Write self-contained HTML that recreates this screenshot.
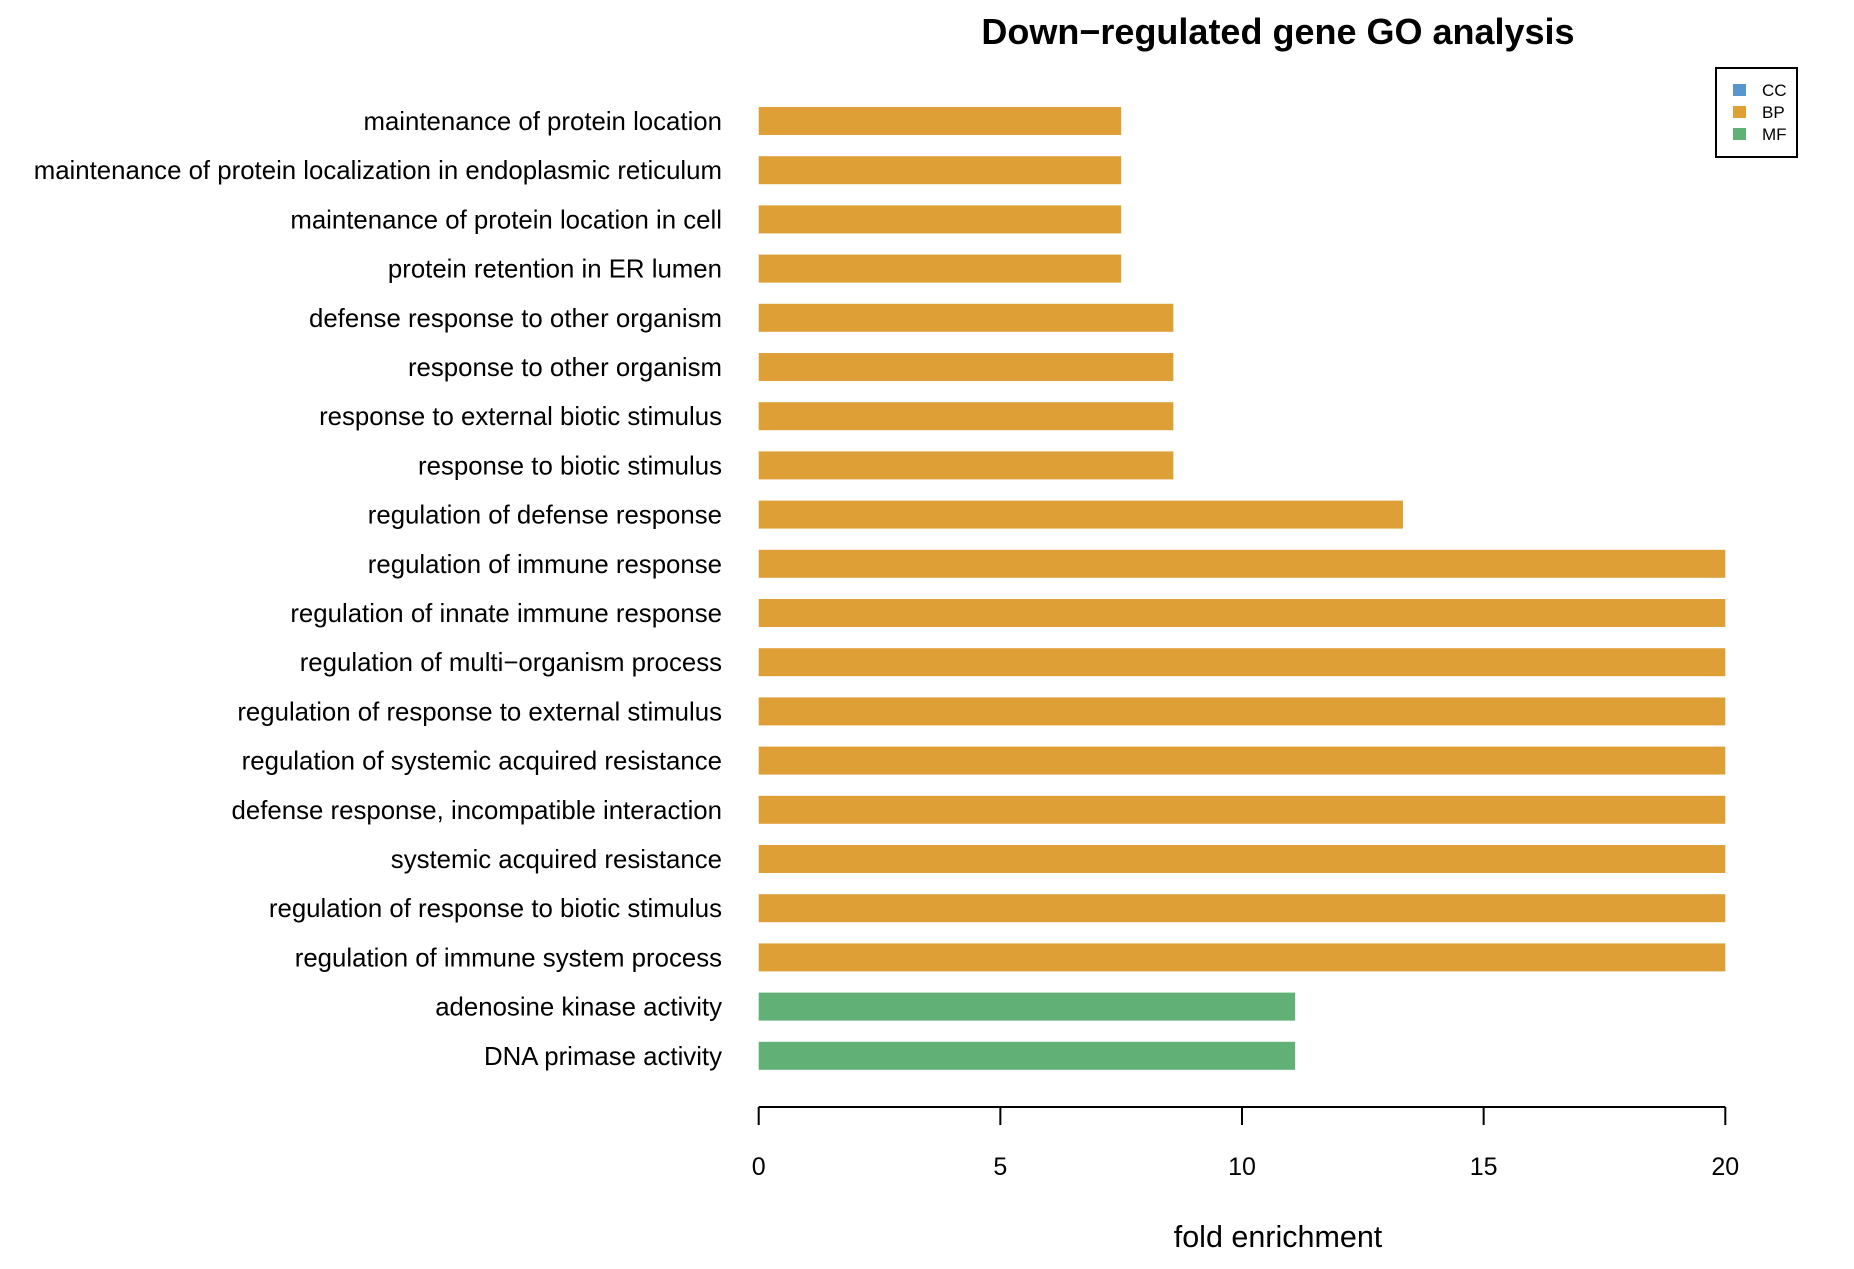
<!DOCTYPE html>
<html><head><meta charset="utf-8"><style>
body{margin:0;background:#fff}
svg text{font-family:"Liberation Sans",Arial,sans-serif}
</style></head><body>
<svg width="1854" height="1264" viewBox="0 0 1854 1264">
<text x="1278" y="44" text-anchor="middle" font-size="36" font-weight="bold">Down−regulated gene GO analysis</text>
<g id="bars"></g><g id="labels"></g><g id="xaxis"></g>
<text x="1278" y="1247" text-anchor="middle" font-size="30.5">fold enrichment</text>
<g>
<rect x="1716" y="68" width="81" height="89" fill="#fff" stroke="#000" stroke-width="2"/>
<rect x="1733" y="84" width="13" height="12" fill="#5b95cf"/>
<text x="1762" y="96" font-size="17">CC</text>
<rect x="1733" y="106" width="13" height="12" fill="#dea036"/>
<text x="1762" y="118" font-size="17">BP</text>
<rect x="1733" y="128" width="13" height="12" fill="#61b176"/>
<text x="1762" y="140" font-size="17">MF</text>
</g>
</svg>
<script>
const categories=["maintenance of protein location","maintenance of protein localization in endoplasmic reticulum","maintenance of protein location in cell","protein retention in ER lumen","defense response to other organism","response to other organism","response to external biotic stimulus","response to biotic stimulus","regulation of defense response","regulation of immune response","regulation of innate immune response","regulation of multi−organism process","regulation of response to external stimulus","regulation of systemic acquired resistance","defense response, incompatible interaction","systemic acquired resistance","regulation of response to biotic stimulus","regulation of immune system process","adenosine kinase activity","DNA primase activity"];
const values=[7.5,7.5,7.5,7.5,8.58,8.58,8.58,8.58,13.33,20,20,20,20,20,20,20,20,20,11.1,11.1];
const groups=["BP","BP","BP","BP","BP","BP","BP","BP","BP","BP","BP","BP","BP","BP","BP","BP","BP","BP","MF","MF"];
const ticks=[0,5,10,15,20];
const colors={CC:"#5b95cf",BP:"#dea036",MF:"#61b176"};
const NS="http://www.w3.org/2000/svg";
const x=v=>758.7+v*(1725.3-758.7)/20;
const y=i=>121+i*49.2;
const bars=document.getElementById('bars'),labels=document.getElementById('labels'),xa=document.getElementById('xaxis');
function mk(t,a,p){const e=document.createElementNS(NS,t);for(const k in a)e.setAttribute(k,a[k]);p.appendChild(e);return e;}
categories.forEach((c,i)=>{
 const r=mk('rect',{x:x(0),y:y(i)-14,width:x(values[i])-x(0),height:28,fill:colors[groups[i]]},bars);
 
 
 const t=mk('text',{x:722,y:y(i)+9,'text-anchor':'end','font-size':25.8},labels);
 t.textContent=c;
 
 
});
const ax=mk('line',{x1:x(0),x2:x(20),y1:1107,y2:1107,stroke:'#000','stroke-width':2},xa);


ticks.forEach(v=>{
 const l=mk('line',{x1:x(v),x2:x(v),y1:1107,y2:1125,stroke:'#000','stroke-width':2},xa);
 
 
 const t=mk('text',{x:x(v),y:1175,'text-anchor':'middle','font-size':25},xa);
 t.textContent=v;
 
 
});
</script>
</body></html>
